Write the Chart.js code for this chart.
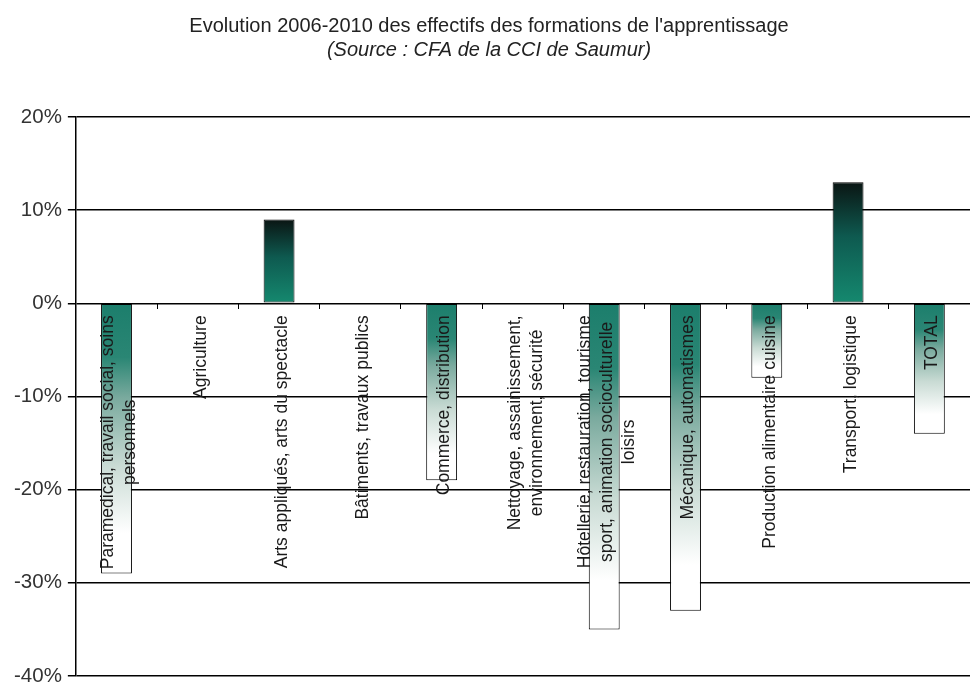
<!DOCTYPE html>
<html>
<head>
<meta charset="utf-8">
<script src="https://cdn.jsdelivr.net/npm/chart.js@4/dist/chart.umd.min.js"></script>
<style>
  html, body { margin: 0; background: #fff; }
  #wrap { width: 970px; height: 682px; }
</style>
</head>
<body>
<div id="wrap"><canvas id="chart"></canvas></div>
<script>
// Formations (une entrée par barre, les tableaux = libellés sur plusieurs lignes)
const categories = [
  ['Paramedical, travail social, soins', 'personnels'],
  'Agriculture',
  'Arts appliqués, arts du spectacle',
  'Bâtiments, travaux publics',
  'Commerce, distribution',
  ['Nettoyage, assainissement,', 'environnement, sécurité'],
  ['Hôtellerie, restauration, tourisme', 'sport, animation socioculturelle', 'loisirs'],
  'Mécanique, automatismes',
  'Production alimentaire cuisine',
  'Transport, logistique',
  'TOTAL'
]

// Evolution des effectifs 2006-2010, en %
const evolution = [-29, 0, 9, 0, -19, 0, -35, -33, -8, 13, -14]

const yMin = -40
const yMax = 20
const yStep = 10

const FONT = '"Liberation Sans", Arial, sans-serif'
const LABEL_LINE_H = 22

// Dégradé par barre : sombre -> sarcelle au-dessus de 0, sarcelle -> blanc en dessous
function barFill(context) {
  const chart = context.chart
  const { ctx, scales, chartArea } = chart
  const v = evolution[context.dataIndex]
  if (!chartArea || !scales.y || v === undefined || v === 0) return '#1c7e6c'
  const y0 = scales.y.getPixelForValue(0)
  const y1 = scales.y.getPixelForValue(v)
  if (!isFinite(y0) || !isFinite(y1)) return '#1c7e6c'
  const g = ctx.createLinearGradient(0, Math.min(y0, y1), 0, Math.max(y0, y1))
  if (v > 0) {
    g.addColorStop(0, '#0a1513')
    g.addColorStop(0.45, '#0e5a50')
    g.addColorStop(1, '#15896f')
  } else {
    g.addColorStop(0, '#1c7e6c')
    g.addColorStop(0.2, '#2a8674')
    g.addColorStop(0.35, '#7aaa9e')
    g.addColorStop(0.6, '#c9dbd4')
    g.addColorStop(0.85, '#ffffff')
    g.addColorStop(1, '#ffffff')
  }
  return g
}

// Libellés verticaux posés sous la ligne du zéro, lignes centrées entre elles
const categoryLabels = {
  id: 'categoryLabels',
  afterDatasetsDraw(chart) {
    const { ctx, scales: { x, y } } = chart
    const top = y.getPixelForValue(0) + 12
    ctx.save()
    ctx.font = '17.5px ' + FONT
    ctx.fillStyle = '#1a1a1a'
    ctx.textAlign = 'center'
    ctx.textBaseline = 'middle'
    categories.forEach((label, i) => {
      const lines = [].concat(label)
      const w = Math.max(...lines.map(l => ctx.measureText(l).width))
      ctx.save()
      ctx.translate(x.getPixelForValue(i) + 3, top)
      ctx.rotate(-Math.PI / 2)
      lines.forEach((l, k) => ctx.fillText(l, -w / 2, (k - (lines.length - 1) / 2) * LABEL_LINE_H))
      ctx.restore()
    })
    ctx.restore()
  }
}

new Chart(document.getElementById('chart'), {
  type: 'bar',
  plugins: [categoryLabels],
  data: {
    labels: categories,
    datasets: [{
      data: evolution,
      backgroundColor: barFill,
      borderColor: '#000',
      borderWidth: 1,
      borderSkipped: false,
      categoryPercentage: 1,
      barPercentage: 0.38
    }]
  },
  options: {
    responsive: true, maintainAspectRatio: false,
    animation: false,
    layout: { padding: { left: 8, right: 0, top: 0, bottom: 0 } },
    plugins: {
      legend: { display: false },
      tooltip: { enabled: false },
      title: {
        display: true,
        text: "Evolution 2006-2010 des effectifs des formations de l'apprentissage",
        color: '#222',
        font: { family: FONT, size: 20, weight: 'normal' },
        padding: { top: 14, bottom: 0 }
      },
      subtitle: {
        display: true,
        text: '(Source : CFA de la CCI de Saumur)',
        color: '#222',
        font: { family: FONT, size: 20, style: 'italic' },
        padding: { top: 0, bottom: 55 }
      }
    },
    scales: {
      x: {
        position: { y: 0 },
        grid: { offset: true, drawOnChartArea: false, drawTicks: true, tickLength: 6, color: '#000' },
        border: { display: false },
        ticks: { display: false }
      },
      y: {
        min: yMin, max: yMax,
        grid: { color: '#000', lineWidth: 1.5, tickLength: 8 },
        border: { color: '#000', width: 1.5 },
        ticks: {
          stepSize: yStep,
          padding: 6,
          color: '#333',
          font: { family: FONT, size: 20.5 },
          callback: v => v + '%'
        },
        // le libellé -40% peut déborder sous le cadre
        afterFit: s => { s.paddingBottom = 6; s.paddingTop = 0 }
      }
    }
  }
})
</script>
</body>
</html>
